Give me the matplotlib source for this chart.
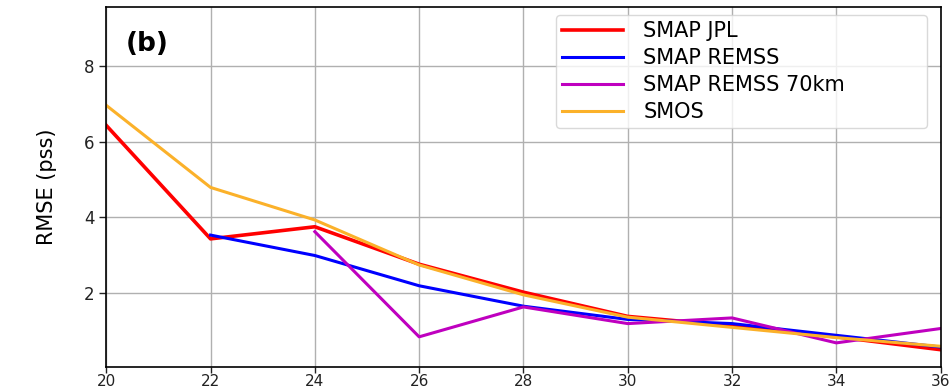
import numpy as np
from matplotlib import pyplot as plt

# incidence angle (deg) and RMSE per product
angles = [20, 22, 24, 26, 28, 30, 32, 34, 36]
smap_jpl = [6.43, 3.43, 3.75, 2.76, 2.02, 1.38, 1.13, 0.84, 0.50]
smap_remss = [np.nan, 3.53, 2.99, 2.19, 1.65, 1.30, 1.19, 0.88, 0.57]
smap_remss_70km = [np.nan, np.nan, 3.62, 0.84, 1.63, 1.19, 1.34, 0.68, 1.06]
smos = [6.96, 4.79, 3.93, 2.74, 1.95, 1.36, 1.09, 0.82, 0.59]

labels = ['SMAP JPL', 'SMAP REMSS', 'SMAP REMSS 70km', 'SMOS']
xticks = [20, 22, 24, 26, 28, 30, 32, 34, 36]
yticks = [2, 4, 6, 8]

fig = plt.figure(figsize=(9.53, 3.89), dpi=100)
ax = fig.add_axes([0.1115, 0.0573, 0.8755, 0.9237])

ax.plot(angles, smap_jpl, color='#ff0000', lw=2.6, label=labels[0])
ax.plot(angles, smap_remss, color='#0000ff', lw=2.2, label=labels[1])
ax.plot(angles, smap_remss_70km, color='#bf00bf', lw=2.2, label=labels[2])
ax.plot(angles, smos, color='#fbb12a', lw=2.2, label=labels[3])

ax.set_xlim(20, 36)
ax.set_ylim(0.05, 9.55)
ax.set_xticks(xticks)
ax.set_yticks(yticks)
ax.tick_params(labelsize=12, length=5, width=1, colors='#222222')
ax.tick_params(axis='x', labelsize=11, length=4, pad=1)
ax.grid(True, color='#b0b0b0', lw=1)
for s in ax.spines.values():
    s.set_linewidth(1.2)

ax.set_ylabel('RMSE (pss)', fontsize=15, labelpad=19)
ax.text(0.023, 0.88, '(b)', transform=ax.transAxes, fontsize=19, fontweight='bold')

ax.legend(loc='upper left', bbox_to_anchor=(0.539, 0.979, 0.4446, 0.0), mode='expand',
          borderaxespad=0, fontsize=15, handlelength=2.9, handletextpad=1.0,
          labelspacing=0.33, borderpad=0.3, framealpha=0.8, edgecolor='#d0d0d0')

fig.savefig('out.png', dpi=100)
